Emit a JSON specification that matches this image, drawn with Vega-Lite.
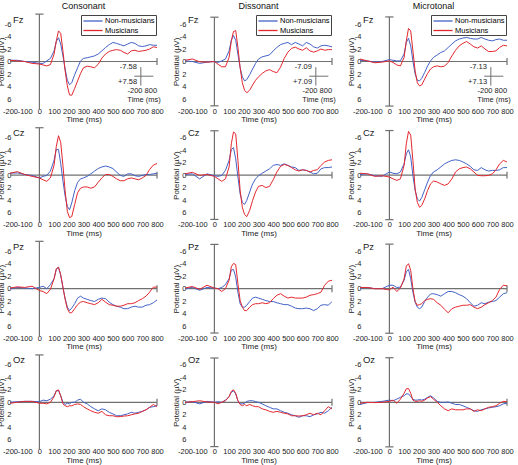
{
"$schema": "https://vega.github.io/schema/vega-lite/v6.json",
"padding": {"left": -3, "top": 1, "right": 0, "bottom": 0},
"background": "white",
"columns": 3,
"spacing": {"row": 18.6, "column": 28},
"bounds": "flush",
"resolve": {"scale": {"color": "independent"}},
"config": {
 "font": "Liberation Sans",
 "view": {"stroke": null},
 "title": {"fontSize": 9, "fontWeight": "normal", "offset": 3, "color": "#111"},
 "axis": {"grid": false, "domain": false, "labelColor": "#222", "titleColor": "#222", "titleFontWeight": "normal", "titleFontSize": 8},
 "axisX": {"ticks": false, "labelFontSize": 7.5, "labelPadding": -2, "titlePadding": 1, "labelFlush": false},
 "axisY": {"ticks": false, "labelFontSize": 7.5, "labelPadding": -1, "titlePadding": -1},
 "text": {"color": "#222"}
},
"datasets": {"erp": [
{"p":"CFz","g":"N","t":-200,"v":-0.2},{"p":"CFz","g":"N","t":-150,"v":-0.2},{"p":"CFz","g":"N","t":-100,"v":0},{"p":"CFz","g":"N","t":-50,"v":0.1},{"p":"CFz","g":"N","t":0,"v":0.3},{"p":"CFz","g":"N","t":25,"v":0.3},{"p":"CFz","g":"N","t":50,"v":-0.1},{"p":"CFz","g":"N","t":75,"v":-0.5},{"p":"CFz","g":"N","t":100,"v":-1.7},{"p":"CFz","g":"N","t":115,"v":-3.2},{"p":"CFz","g":"N","t":130,"v":-3.8},{"p":"CFz","g":"N","t":145,"v":-2.8},{"p":"CFz","g":"N","t":160,"v":-0.9},{"p":"CFz","g":"N","t":175,"v":1.2},{"p":"CFz","g":"N","t":190,"v":3.0},{"p":"CFz","g":"N","t":205,"v":3.7},{"p":"CFz","g":"N","t":220,"v":3.4},{"p":"CFz","g":"N","t":240,"v":2.1},{"p":"CFz","g":"N","t":260,"v":1.0},{"p":"CFz","g":"N","t":280,"v":-0.1},{"p":"CFz","g":"N","t":300,"v":-0.5},{"p":"CFz","g":"N","t":325,"v":-0.6},{"p":"CFz","g":"N","t":350,"v":-0.75},{"p":"CFz","g":"N","t":375,"v":-0.9},{"p":"CFz","g":"N","t":400,"v":-1.2},{"p":"CFz","g":"N","t":425,"v":-1.7},{"p":"CFz","g":"N","t":450,"v":-2.25},{"p":"CFz","g":"N","t":475,"v":-2.7},{"p":"CFz","g":"N","t":500,"v":-3.05},{"p":"CFz","g":"N","t":525,"v":-2.9},{"p":"CFz","g":"N","t":550,"v":-2.7},{"p":"CFz","g":"N","t":575,"v":-2.5},{"p":"CFz","g":"N","t":600,"v":-2.8},{"p":"CFz","g":"N","t":625,"v":-3.05},{"p":"CFz","g":"N","t":650,"v":-2.9},{"p":"CFz","g":"N","t":675,"v":-2.5},{"p":"CFz","g":"N","t":700,"v":-2.4},{"p":"CFz","g":"N","t":725,"v":-2.5},{"p":"CFz","g":"N","t":750,"v":-2.7},{"p":"CFz","g":"N","t":775,"v":-2.6},{"p":"CFz","g":"N","t":800,"v":-2.6},
{"p":"CFz","g":"M","t":-200,"v":-0.2},{"p":"CFz","g":"M","t":-150,"v":-0.1},{"p":"CFz","g":"M","t":-100,"v":0},{"p":"CFz","g":"M","t":-50,"v":0.3},{"p":"CFz","g":"M","t":0,"v":0.4},{"p":"CFz","g":"M","t":25,"v":0.55},{"p":"CFz","g":"M","t":50,"v":0.7},{"p":"CFz","g":"M","t":75,"v":0.5},{"p":"CFz","g":"M","t":100,"v":-1.2},{"p":"CFz","g":"M","t":115,"v":-3.3},{"p":"CFz","g":"M","t":130,"v":-4.9},{"p":"CFz","g":"M","t":145,"v":-4.5},{"p":"CFz","g":"M","t":160,"v":-1.7},{"p":"CFz","g":"M","t":175,"v":1.5},{"p":"CFz","g":"M","t":190,"v":3.9},{"p":"CFz","g":"M","t":205,"v":5.35},{"p":"CFz","g":"M","t":220,"v":5.4},{"p":"CFz","g":"M","t":240,"v":4.3},{"p":"CFz","g":"M","t":260,"v":3.1},{"p":"CFz","g":"M","t":280,"v":1.9},{"p":"CFz","g":"M","t":300,"v":1.0},{"p":"CFz","g":"M","t":325,"v":0.75},{"p":"CFz","g":"M","t":350,"v":0.85},{"p":"CFz","g":"M","t":375,"v":1.0},{"p":"CFz","g":"M","t":400,"v":0.45},{"p":"CFz","g":"M","t":425,"v":-0.55},{"p":"CFz","g":"M","t":450,"v":-1.2},{"p":"CFz","g":"M","t":475,"v":-1.6},{"p":"CFz","g":"M","t":500,"v":-1.8},{"p":"CFz","g":"M","t":525,"v":-1.9},{"p":"CFz","g":"M","t":550,"v":-1.8},{"p":"CFz","g":"M","t":575,"v":-1.45},{"p":"CFz","g":"M","t":600,"v":-1.2},{"p":"CFz","g":"M","t":625,"v":-1.7},{"p":"CFz","g":"M","t":650,"v":-1.8},{"p":"CFz","g":"M","t":675,"v":-1.6},{"p":"CFz","g":"M","t":700,"v":-1.7},{"p":"CFz","g":"M","t":725,"v":-1.8},{"p":"CFz","g":"M","t":750,"v":-2.0},{"p":"CFz","g":"M","t":775,"v":-2.35},{"p":"CFz","g":"M","t":800,"v":-2.25},
{"p":"DFz","g":"N","t":-200,"v":-0.1},{"p":"DFz","g":"N","t":-150,"v":0},{"p":"DFz","g":"N","t":-100,"v":0.3},{"p":"DFz","g":"N","t":-50,"v":0.1},{"p":"DFz","g":"N","t":0,"v":0},{"p":"DFz","g":"N","t":25,"v":0.15},{"p":"DFz","g":"N","t":50,"v":-0.1},{"p":"DFz","g":"N","t":75,"v":-0.4},{"p":"DFz","g":"N","t":100,"v":-1.7},{"p":"DFz","g":"N","t":115,"v":-3.4},{"p":"DFz","g":"N","t":130,"v":-4.15},{"p":"DFz","g":"N","t":145,"v":-3.4},{"p":"DFz","g":"N","t":160,"v":-1.2},{"p":"DFz","g":"N","t":175,"v":1.0},{"p":"DFz","g":"N","t":190,"v":2.45},{"p":"DFz","g":"N","t":205,"v":3.1},{"p":"DFz","g":"N","t":220,"v":2.9},{"p":"DFz","g":"N","t":240,"v":2.1},{"p":"DFz","g":"N","t":260,"v":1.2},{"p":"DFz","g":"N","t":280,"v":0.3},{"p":"DFz","g":"N","t":300,"v":-0.4},{"p":"DFz","g":"N","t":325,"v":-0.75},{"p":"DFz","g":"N","t":350,"v":-0.9},{"p":"DFz","g":"N","t":375,"v":-1.05},{"p":"DFz","g":"N","t":400,"v":-1.7},{"p":"DFz","g":"N","t":425,"v":-2.25},{"p":"DFz","g":"N","t":450,"v":-2.7},{"p":"DFz","g":"N","t":475,"v":-2.9},{"p":"DFz","g":"N","t":500,"v":-3.05},{"p":"DFz","g":"N","t":525,"v":-2.7},{"p":"DFz","g":"N","t":550,"v":-3.05},{"p":"DFz","g":"N","t":575,"v":-2.8},{"p":"DFz","g":"N","t":600,"v":-2.5},{"p":"DFz","g":"N","t":625,"v":-3.05},{"p":"DFz","g":"N","t":650,"v":-2.8},{"p":"DFz","g":"N","t":675,"v":-2.35},{"p":"DFz","g":"N","t":700,"v":-2.15},{"p":"DFz","g":"N","t":725,"v":-2.5},{"p":"DFz","g":"N","t":750,"v":-2.6},{"p":"DFz","g":"N","t":775,"v":-2.5},{"p":"DFz","g":"N","t":800,"v":-2.35},
{"p":"DFz","g":"M","t":-200,"v":-0.2},{"p":"DFz","g":"M","t":-150,"v":-0.4},{"p":"DFz","g":"M","t":-100,"v":0.05},{"p":"DFz","g":"M","t":-50,"v":0.1},{"p":"DFz","g":"M","t":0,"v":0},{"p":"DFz","g":"M","t":25,"v":0.45},{"p":"DFz","g":"M","t":50,"v":0.85},{"p":"DFz","g":"M","t":75,"v":0.85},{"p":"DFz","g":"M","t":100,"v":-0.65},{"p":"DFz","g":"M","t":115,"v":-3.3},{"p":"DFz","g":"M","t":130,"v":-4.8},{"p":"DFz","g":"M","t":145,"v":-4.95},{"p":"DFz","g":"M","t":160,"v":-2.25},{"p":"DFz","g":"M","t":175,"v":1.0},{"p":"DFz","g":"M","t":190,"v":3.4},{"p":"DFz","g":"M","t":205,"v":4.6},{"p":"DFz","g":"M","t":220,"v":5.0},{"p":"DFz","g":"M","t":240,"v":4.6},{"p":"DFz","g":"M","t":260,"v":3.75},{"p":"DFz","g":"M","t":280,"v":3.0},{"p":"DFz","g":"M","t":300,"v":2.45},{"p":"DFz","g":"M","t":325,"v":1.9},{"p":"DFz","g":"M","t":350,"v":1.5},{"p":"DFz","g":"M","t":375,"v":1.3},{"p":"DFz","g":"M","t":400,"v":1.6},{"p":"DFz","g":"M","t":425,"v":1.8},{"p":"DFz","g":"M","t":450,"v":0.9},{"p":"DFz","g":"M","t":475,"v":-0.5},{"p":"DFz","g":"M","t":500,"v":-1.5},{"p":"DFz","g":"M","t":525,"v":-2.1},{"p":"DFz","g":"M","t":550,"v":-2.3},{"p":"DFz","g":"M","t":575,"v":-2.0},{"p":"DFz","g":"M","t":600,"v":-1.8},{"p":"DFz","g":"M","t":625,"v":-2.2},{"p":"DFz","g":"M","t":650,"v":-1.7},{"p":"DFz","g":"M","t":675,"v":-1.5},{"p":"DFz","g":"M","t":700,"v":-1.7},{"p":"DFz","g":"M","t":725,"v":-2.0},{"p":"DFz","g":"M","t":750,"v":-1.8},{"p":"DFz","g":"M","t":775,"v":-1.9},{"p":"DFz","g":"M","t":800,"v":-1.9},
{"p":"MFz","g":"N","t":-200,"v":-0.2},{"p":"MFz","g":"N","t":-150,"v":-0.1},{"p":"MFz","g":"N","t":-100,"v":0.1},{"p":"MFz","g":"N","t":-50,"v":0},{"p":"MFz","g":"N","t":0,"v":-0.3},{"p":"MFz","g":"N","t":25,"v":-0.2},{"p":"MFz","g":"N","t":50,"v":-0.1},{"p":"MFz","g":"N","t":75,"v":-0.1},{"p":"MFz","g":"N","t":100,"v":-1.2},{"p":"MFz","g":"N","t":115,"v":-3.05},{"p":"MFz","g":"N","t":130,"v":-3.7},{"p":"MFz","g":"N","t":145,"v":-2.5},{"p":"MFz","g":"N","t":160,"v":-0.1},{"p":"MFz","g":"N","t":175,"v":2.0},{"p":"MFz","g":"N","t":190,"v":3.0},{"p":"MFz","g":"N","t":205,"v":3.1},{"p":"MFz","g":"N","t":220,"v":2.7},{"p":"MFz","g":"N","t":240,"v":1.75},{"p":"MFz","g":"N","t":260,"v":0.7},{"p":"MFz","g":"N","t":280,"v":-0.1},{"p":"MFz","g":"N","t":300,"v":-0.65},{"p":"MFz","g":"N","t":325,"v":-1.05},{"p":"MFz","g":"N","t":350,"v":-1.45},{"p":"MFz","g":"N","t":375,"v":-1.7},{"p":"MFz","g":"N","t":400,"v":-2.25},{"p":"MFz","g":"N","t":425,"v":-2.8},{"p":"MFz","g":"N","t":450,"v":-3.3},{"p":"MFz","g":"N","t":475,"v":-3.6},{"p":"MFz","g":"N","t":500,"v":-3.75},{"p":"MFz","g":"N","t":525,"v":-3.85},{"p":"MFz","g":"N","t":550,"v":-3.7},{"p":"MFz","g":"N","t":575,"v":-3.6},{"p":"MFz","g":"N","t":600,"v":-3.6},{"p":"MFz","g":"N","t":625,"v":-3.85},{"p":"MFz","g":"N","t":650,"v":-3.6},{"p":"MFz","g":"N","t":675,"v":-3.4},{"p":"MFz","g":"N","t":700,"v":-3.3},{"p":"MFz","g":"N","t":725,"v":-3.5},{"p":"MFz","g":"N","t":750,"v":-3.6},{"p":"MFz","g":"N","t":775,"v":-3.4},{"p":"MFz","g":"N","t":800,"v":-3.4},
{"p":"MFz","g":"M","t":-200,"v":-0.4},{"p":"MFz","g":"M","t":-150,"v":-0.1},{"p":"MFz","g":"M","t":-100,"v":0.2},{"p":"MFz","g":"M","t":-50,"v":0.1},{"p":"MFz","g":"M","t":0,"v":-0.1},{"p":"MFz","g":"M","t":25,"v":0.15},{"p":"MFz","g":"M","t":50,"v":0.55},{"p":"MFz","g":"M","t":75,"v":0.7},{"p":"MFz","g":"M","t":100,"v":-0.65},{"p":"MFz","g":"M","t":115,"v":-3.3},{"p":"MFz","g":"M","t":130,"v":-5.3},{"p":"MFz","g":"M","t":145,"v":-4.9},{"p":"MFz","g":"M","t":160,"v":-1.7},{"p":"MFz","g":"M","t":175,"v":1.5},{"p":"MFz","g":"M","t":190,"v":3.4},{"p":"MFz","g":"M","t":205,"v":3.9},{"p":"MFz","g":"M","t":220,"v":3.75},{"p":"MFz","g":"M","t":240,"v":2.8},{"p":"MFz","g":"M","t":260,"v":1.9},{"p":"MFz","g":"M","t":280,"v":1.2},{"p":"MFz","g":"M","t":300,"v":0.85},{"p":"MFz","g":"M","t":325,"v":0.7},{"p":"MFz","g":"M","t":350,"v":0.85},{"p":"MFz","g":"M","t":375,"v":0.75},{"p":"MFz","g":"M","t":400,"v":0.15},{"p":"MFz","g":"M","t":425,"v":-0.9},{"p":"MFz","g":"M","t":450,"v":-1.8},{"p":"MFz","g":"M","t":475,"v":-2.5},{"p":"MFz","g":"M","t":500,"v":-2.9},{"p":"MFz","g":"M","t":525,"v":-3.2},{"p":"MFz","g":"M","t":550,"v":-2.8},{"p":"MFz","g":"M","t":575,"v":-2.35},{"p":"MFz","g":"M","t":600,"v":-2.15},{"p":"MFz","g":"M","t":625,"v":-2.5},{"p":"MFz","g":"M","t":650,"v":-2.0},{"p":"MFz","g":"M","t":675,"v":-1.6},{"p":"MFz","g":"M","t":700,"v":-1.6},{"p":"MFz","g":"M","t":725,"v":-1.7},{"p":"MFz","g":"M","t":750,"v":-2.25},{"p":"MFz","g":"M","t":775,"v":-2.6},{"p":"MFz","g":"M","t":800,"v":-2.5},
{"p":"CCz","g":"N","t":-200,"v":-0.3},{"p":"CCz","g":"N","t":-150,"v":-0.35},{"p":"CCz","g":"N","t":-100,"v":-0.1},{"p":"CCz","g":"N","t":-50,"v":0.05},{"p":"CCz","g":"N","t":0,"v":0.45},{"p":"CCz","g":"N","t":25,"v":0.2},{"p":"CCz","g":"N","t":50,"v":0.05},{"p":"CCz","g":"N","t":75,"v":-0.65},{"p":"CCz","g":"N","t":100,"v":-2.4},{"p":"CCz","g":"N","t":115,"v":-4.1},{"p":"CCz","g":"N","t":130,"v":-4.1},{"p":"CCz","g":"N","t":145,"v":-1.85},{"p":"CCz","g":"N","t":160,"v":0.9},{"p":"CCz","g":"N","t":175,"v":3.35},{"p":"CCz","g":"N","t":190,"v":5.0},{"p":"CCz","g":"N","t":205,"v":5.55},{"p":"CCz","g":"N","t":220,"v":4.45},{"p":"CCz","g":"N","t":240,"v":2.5},{"p":"CCz","g":"N","t":260,"v":1.15},{"p":"CCz","g":"N","t":280,"v":0.6},{"p":"CCz","g":"N","t":300,"v":0.45},{"p":"CCz","g":"N","t":325,"v":0.2},{"p":"CCz","g":"N","t":350,"v":-0.2},{"p":"CCz","g":"N","t":375,"v":-0.65},{"p":"CCz","g":"N","t":400,"v":-1.05},{"p":"CCz","g":"N","t":425,"v":-1.3},{"p":"CCz","g":"N","t":450,"v":-1.45},{"p":"CCz","g":"N","t":475,"v":-1.3},{"p":"CCz","g":"N","t":500,"v":-1.05},{"p":"CCz","g":"N","t":525,"v":-0.5},{"p":"CCz","g":"N","t":550,"v":0.05},{"p":"CCz","g":"N","t":575,"v":0.2},{"p":"CCz","g":"N","t":600,"v":-0.2},{"p":"CCz","g":"N","t":625,"v":-0.2},{"p":"CCz","g":"N","t":650,"v":0.1},{"p":"CCz","g":"N","t":675,"v":0.2},{"p":"CCz","g":"N","t":700,"v":0.05},{"p":"CCz","g":"N","t":725,"v":-0.1},{"p":"CCz","g":"N","t":750,"v":-0.1},{"p":"CCz","g":"N","t":775,"v":-0.2},{"p":"CCz","g":"N","t":800,"v":-0.3},
{"p":"CCz","g":"M","t":-200,"v":-0.3},{"p":"CCz","g":"M","t":-150,"v":-0.55},{"p":"CCz","g":"M","t":-100,"v":-0.1},{"p":"CCz","g":"M","t":-50,"v":0.2},{"p":"CCz","g":"M","t":0,"v":0.45},{"p":"CCz","g":"M","t":25,"v":0.75},{"p":"CCz","g":"M","t":50,"v":1.0},{"p":"CCz","g":"M","t":75,"v":0.45},{"p":"CCz","g":"M","t":100,"v":-1.6},{"p":"CCz","g":"M","t":115,"v":-4.6},{"p":"CCz","g":"M","t":130,"v":-6.3},{"p":"CCz","g":"M","t":145,"v":-5.2},{"p":"CCz","g":"M","t":160,"v":-1.6},{"p":"CCz","g":"M","t":175,"v":2.5},{"p":"CCz","g":"M","t":190,"v":5.8},{"p":"CCz","g":"M","t":205,"v":6.8},{"p":"CCz","g":"M","t":220,"v":6.65},{"p":"CCz","g":"M","t":240,"v":4.7},{"p":"CCz","g":"M","t":260,"v":2.8},{"p":"CCz","g":"M","t":280,"v":2.1},{"p":"CCz","g":"M","t":300,"v":1.9},{"p":"CCz","g":"M","t":325,"v":1.9},{"p":"CCz","g":"M","t":350,"v":2.1},{"p":"CCz","g":"M","t":375,"v":1.9},{"p":"CCz","g":"M","t":400,"v":1.15},{"p":"CCz","g":"M","t":425,"v":0.45},{"p":"CCz","g":"M","t":450,"v":-0.1},{"p":"CCz","g":"M","t":475,"v":-0.1},{"p":"CCz","g":"M","t":500,"v":0.2},{"p":"CCz","g":"M","t":525,"v":0.6},{"p":"CCz","g":"M","t":550,"v":0.9},{"p":"CCz","g":"M","t":575,"v":0.9},{"p":"CCz","g":"M","t":600,"v":0.6},{"p":"CCz","g":"M","t":625,"v":0.45},{"p":"CCz","g":"M","t":650,"v":0.6},{"p":"CCz","g":"M","t":675,"v":0.75},{"p":"CCz","g":"M","t":700,"v":0.45},{"p":"CCz","g":"M","t":725,"v":0.05},{"p":"CCz","g":"M","t":750,"v":-0.9},{"p":"CCz","g":"M","t":775,"v":-1.6},{"p":"CCz","g":"M","t":800,"v":-1.85},
{"p":"DCz","g":"N","t":-200,"v":-0.1},{"p":"DCz","g":"N","t":-150,"v":-0.2},{"p":"DCz","g":"N","t":-100,"v":0.6},{"p":"DCz","g":"N","t":-50,"v":-0.2},{"p":"DCz","g":"N","t":0,"v":0.1},{"p":"DCz","g":"N","t":25,"v":0.2},{"p":"DCz","g":"N","t":50,"v":0.05},{"p":"DCz","g":"N","t":75,"v":-0.75},{"p":"DCz","g":"N","t":100,"v":-2.35},{"p":"DCz","g":"N","t":115,"v":-4.05},{"p":"DCz","g":"N","t":130,"v":-4.4},{"p":"DCz","g":"N","t":145,"v":-2.6},{"p":"DCz","g":"N","t":160,"v":0.3},{"p":"DCz","g":"N","t":175,"v":3.0},{"p":"DCz","g":"N","t":190,"v":4.35},{"p":"DCz","g":"N","t":205,"v":4.7},{"p":"DCz","g":"N","t":220,"v":4.05},{"p":"DCz","g":"N","t":240,"v":2.7},{"p":"DCz","g":"N","t":260,"v":1.4},{"p":"DCz","g":"N","t":280,"v":0.6},{"p":"DCz","g":"N","t":300,"v":0.1},{"p":"DCz","g":"N","t":325,"v":-0.3},{"p":"DCz","g":"N","t":350,"v":-0.65},{"p":"DCz","g":"N","t":375,"v":-1.0},{"p":"DCz","g":"N","t":400,"v":-1.55},{"p":"DCz","g":"N","t":425,"v":-1.7},{"p":"DCz","g":"N","t":450,"v":-1.55},{"p":"DCz","g":"N","t":475,"v":-1.8},{"p":"DCz","g":"N","t":500,"v":-1.55},{"p":"DCz","g":"N","t":525,"v":-1.3},{"p":"DCz","g":"N","t":550,"v":-1.2},{"p":"DCz","g":"N","t":575,"v":-0.75},{"p":"DCz","g":"N","t":600,"v":-0.85},{"p":"DCz","g":"N","t":625,"v":-0.75},{"p":"DCz","g":"N","t":650,"v":-0.5},{"p":"DCz","g":"N","t":675,"v":-0.2},{"p":"DCz","g":"N","t":700,"v":-0.3},{"p":"DCz","g":"N","t":725,"v":-1.0},{"p":"DCz","g":"N","t":750,"v":-1.2},{"p":"DCz","g":"N","t":775,"v":-1.2},{"p":"DCz","g":"N","t":800,"v":-1.3},
{"p":"DCz","g":"M","t":-200,"v":-0.2},{"p":"DCz","g":"M","t":-150,"v":-0.45},{"p":"DCz","g":"M","t":-100,"v":0.05},{"p":"DCz","g":"M","t":-50,"v":-0.1},{"p":"DCz","g":"M","t":0,"v":0.2},{"p":"DCz","g":"M","t":25,"v":0.6},{"p":"DCz","g":"M","t":50,"v":1.0},{"p":"DCz","g":"M","t":75,"v":0.6},{"p":"DCz","g":"M","t":100,"v":-1.3},{"p":"DCz","g":"M","t":115,"v":-5.0},{"p":"DCz","g":"M","t":130,"v":-6.9},{"p":"DCz","g":"M","t":145,"v":-6.6},{"p":"DCz","g":"M","t":160,"v":-2.35},{"p":"DCz","g":"M","t":175,"v":2.45},{"p":"DCz","g":"M","t":190,"v":5.15},{"p":"DCz","g":"M","t":205,"v":6.3},{"p":"DCz","g":"M","t":220,"v":6.65},{"p":"DCz","g":"M","t":240,"v":5.65},{"p":"DCz","g":"M","t":260,"v":4.05},{"p":"DCz","g":"M","t":280,"v":2.7},{"p":"DCz","g":"M","t":300,"v":1.8},{"p":"DCz","g":"M","t":325,"v":1.65},{"p":"DCz","g":"M","t":350,"v":2.0},{"p":"DCz","g":"M","t":375,"v":1.8},{"p":"DCz","g":"M","t":400,"v":0.75},{"p":"DCz","g":"M","t":425,"v":-0.5},{"p":"DCz","g":"M","t":450,"v":-1.4},{"p":"DCz","g":"M","t":475,"v":-1.7},{"p":"DCz","g":"M","t":500,"v":-1.55},{"p":"DCz","g":"M","t":525,"v":-1.2},{"p":"DCz","g":"M","t":550,"v":-0.85},{"p":"DCz","g":"M","t":575,"v":-0.65},{"p":"DCz","g":"M","t":600,"v":-0.85},{"p":"DCz","g":"M","t":625,"v":-0.75},{"p":"DCz","g":"M","t":650,"v":-0.5},{"p":"DCz","g":"M","t":675,"v":-0.75},{"p":"DCz","g":"M","t":700,"v":-0.85},{"p":"DCz","g":"M","t":725,"v":-1.55},{"p":"DCz","g":"M","t":750,"v":-2.1},{"p":"DCz","g":"M","t":775,"v":-2.35},{"p":"DCz","g":"M","t":800,"v":-2.45},
{"p":"MCz","g":"N","t":-200,"v":-0.1},{"p":"MCz","g":"N","t":-150,"v":-0.2},{"p":"MCz","g":"N","t":-100,"v":0.1},{"p":"MCz","g":"N","t":-50,"v":0.2},{"p":"MCz","g":"N","t":0,"v":-0.5},{"p":"MCz","g":"N","t":25,"v":-0.3},{"p":"MCz","g":"N","t":50,"v":-0.2},{"p":"MCz","g":"N","t":75,"v":-0.5},{"p":"MCz","g":"N","t":100,"v":-1.8},{"p":"MCz","g":"N","t":115,"v":-3.4},{"p":"MCz","g":"N","t":130,"v":-4.05},{"p":"MCz","g":"N","t":145,"v":-2.9},{"p":"MCz","g":"N","t":160,"v":0.05},{"p":"MCz","g":"N","t":175,"v":2.45},{"p":"MCz","g":"N","t":190,"v":3.8},{"p":"MCz","g":"N","t":205,"v":4.15},{"p":"MCz","g":"N","t":220,"v":3.6},{"p":"MCz","g":"N","t":240,"v":2.35},{"p":"MCz","g":"N","t":260,"v":1.1},{"p":"MCz","g":"N","t":280,"v":0.05},{"p":"MCz","g":"N","t":300,"v":-0.5},{"p":"MCz","g":"N","t":325,"v":-0.85},{"p":"MCz","g":"N","t":350,"v":-1.3},{"p":"MCz","g":"N","t":375,"v":-1.8},{"p":"MCz","g":"N","t":400,"v":-2.1},{"p":"MCz","g":"N","t":425,"v":-2.35},{"p":"MCz","g":"N","t":450,"v":-2.45},{"p":"MCz","g":"N","t":475,"v":-2.35},{"p":"MCz","g":"N","t":500,"v":-2.1},{"p":"MCz","g":"N","t":525,"v":-1.8},{"p":"MCz","g":"N","t":550,"v":-1.4},{"p":"MCz","g":"N","t":575,"v":-0.85},{"p":"MCz","g":"N","t":600,"v":-0.75},{"p":"MCz","g":"N","t":625,"v":-1.2},{"p":"MCz","g":"N","t":650,"v":-0.85},{"p":"MCz","g":"N","t":675,"v":-0.65},{"p":"MCz","g":"N","t":700,"v":-0.75},{"p":"MCz","g":"N","t":725,"v":-0.75},{"p":"MCz","g":"N","t":750,"v":-0.85},{"p":"MCz","g":"N","t":775,"v":-1.2},{"p":"MCz","g":"N","t":800,"v":-1.2},
{"p":"MCz","g":"M","t":-200,"v":-0.3},{"p":"MCz","g":"M","t":-150,"v":-0.2},{"p":"MCz","g":"M","t":-100,"v":0.2},{"p":"MCz","g":"M","t":-50,"v":0.1},{"p":"MCz","g":"M","t":0,"v":0.3},{"p":"MCz","g":"M","t":25,"v":0.6},{"p":"MCz","g":"M","t":50,"v":0.85},{"p":"MCz","g":"M","t":75,"v":0.6},{"p":"MCz","g":"M","t":100,"v":-1.55},{"p":"MCz","g":"M","t":115,"v":-5.0},{"p":"MCz","g":"M","t":130,"v":-7.0},{"p":"MCz","g":"M","t":145,"v":-6.4},{"p":"MCz","g":"M","t":160,"v":-2.35},{"p":"MCz","g":"M","t":175,"v":2.2},{"p":"MCz","g":"M","t":190,"v":4.35},{"p":"MCz","g":"M","t":205,"v":5.15},{"p":"MCz","g":"M","t":220,"v":4.85},{"p":"MCz","g":"M","t":240,"v":3.8},{"p":"MCz","g":"M","t":260,"v":2.45},{"p":"MCz","g":"M","t":280,"v":1.4},{"p":"MCz","g":"M","t":300,"v":0.95},{"p":"MCz","g":"M","t":325,"v":1.1},{"p":"MCz","g":"M","t":350,"v":1.4},{"p":"MCz","g":"M","t":375,"v":1.65},{"p":"MCz","g":"M","t":400,"v":1.4},{"p":"MCz","g":"M","t":425,"v":0.6},{"p":"MCz","g":"M","t":450,"v":-0.5},{"p":"MCz","g":"M","t":475,"v":-1.0},{"p":"MCz","g":"M","t":500,"v":-1.2},{"p":"MCz","g":"M","t":525,"v":-1.3},{"p":"MCz","g":"M","t":550,"v":-1.0},{"p":"MCz","g":"M","t":575,"v":-0.5},{"p":"MCz","g":"M","t":600,"v":0.05},{"p":"MCz","g":"M","t":625,"v":0.1},{"p":"MCz","g":"M","t":650,"v":0.1},{"p":"MCz","g":"M","t":675,"v":0.05},{"p":"MCz","g":"M","t":700,"v":-0.2},{"p":"MCz","g":"M","t":725,"v":-0.85},{"p":"MCz","g":"M","t":750,"v":-1.8},{"p":"MCz","g":"M","t":775,"v":-2.35},{"p":"MCz","g":"M","t":800,"v":-2.1},
{"p":"CPz","g":"N","t":-200,"v":0},{"p":"CPz","g":"N","t":-150,"v":-0.2},{"p":"CPz","g":"N","t":-100,"v":-0.1},{"p":"CPz","g":"N","t":-50,"v":0},{"p":"CPz","g":"N","t":0,"v":-0.2},{"p":"CPz","g":"N","t":25,"v":-0.4},{"p":"CPz","g":"N","t":50,"v":0},{"p":"CPz","g":"N","t":75,"v":-0.65},{"p":"CPz","g":"N","t":100,"v":-1.6},{"p":"CPz","g":"N","t":115,"v":-3.1},{"p":"CPz","g":"N","t":130,"v":-3.4},{"p":"CPz","g":"N","t":145,"v":-2.15},{"p":"CPz","g":"N","t":160,"v":-0.25},{"p":"CPz","g":"N","t":175,"v":1.6},{"p":"CPz","g":"N","t":190,"v":2.95},{"p":"CPz","g":"N","t":205,"v":3.5},{"p":"CPz","g":"N","t":220,"v":3.1},{"p":"CPz","g":"N","t":240,"v":2.4},{"p":"CPz","g":"N","t":260,"v":1.5},{"p":"CPz","g":"N","t":280,"v":1.2},{"p":"CPz","g":"N","t":300,"v":1.5},{"p":"CPz","g":"N","t":325,"v":1.7},{"p":"CPz","g":"N","t":350,"v":1.9},{"p":"CPz","g":"N","t":375,"v":2.05},{"p":"CPz","g":"N","t":400,"v":1.7},{"p":"CPz","g":"N","t":425,"v":1.5},{"p":"CPz","g":"N","t":450,"v":1.6},{"p":"CPz","g":"N","t":475,"v":2.15},{"p":"CPz","g":"N","t":500,"v":2.55},{"p":"CPz","g":"N","t":525,"v":2.8},{"p":"CPz","g":"N","t":550,"v":2.95},{"p":"CPz","g":"N","t":575,"v":3.2},{"p":"CPz","g":"N","t":600,"v":3.2},{"p":"CPz","g":"N","t":625,"v":2.95},{"p":"CPz","g":"N","t":650,"v":2.8},{"p":"CPz","g":"N","t":675,"v":2.95},{"p":"CPz","g":"N","t":700,"v":2.95},{"p":"CPz","g":"N","t":725,"v":2.65},{"p":"CPz","g":"N","t":750,"v":2.55},{"p":"CPz","g":"N","t":775,"v":2.25},{"p":"CPz","g":"N","t":800,"v":1.8},
{"p":"CPz","g":"M","t":-200,"v":-0.1},{"p":"CPz","g":"M","t":-150,"v":-0.3},{"p":"CPz","g":"M","t":-100,"v":-0.2},{"p":"CPz","g":"M","t":-50,"v":-0.4},{"p":"CPz","g":"M","t":0,"v":0.3},{"p":"CPz","g":"M","t":25,"v":0.45},{"p":"CPz","g":"M","t":50,"v":0.8},{"p":"CPz","g":"M","t":75,"v":0.1},{"p":"CPz","g":"M","t":100,"v":-1.6},{"p":"CPz","g":"M","t":115,"v":-3.2},{"p":"CPz","g":"M","t":130,"v":-3.45},{"p":"CPz","g":"M","t":145,"v":-2.25},{"p":"CPz","g":"M","t":160,"v":-0.25},{"p":"CPz","g":"M","t":175,"v":1.7},{"p":"CPz","g":"M","t":190,"v":3.2},{"p":"CPz","g":"M","t":205,"v":3.85},{"p":"CPz","g":"M","t":220,"v":3.85},{"p":"CPz","g":"M","t":240,"v":3.2},{"p":"CPz","g":"M","t":260,"v":2.55},{"p":"CPz","g":"M","t":280,"v":2.15},{"p":"CPz","g":"M","t":300,"v":2.05},{"p":"CPz","g":"M","t":325,"v":2.25},{"p":"CPz","g":"M","t":350,"v":2.4},{"p":"CPz","g":"M","t":375,"v":2.55},{"p":"CPz","g":"M","t":400,"v":2.25},{"p":"CPz","g":"M","t":425,"v":1.7},{"p":"CPz","g":"M","t":450,"v":2.15},{"p":"CPz","g":"M","t":475,"v":2.55},{"p":"CPz","g":"M","t":500,"v":2.65},{"p":"CPz","g":"M","t":525,"v":2.8},{"p":"CPz","g":"M","t":550,"v":2.8},{"p":"CPz","g":"M","t":575,"v":2.65},{"p":"CPz","g":"M","t":600,"v":2.4},{"p":"CPz","g":"M","t":625,"v":2.4},{"p":"CPz","g":"M","t":650,"v":2.25},{"p":"CPz","g":"M","t":675,"v":1.9},{"p":"CPz","g":"M","t":700,"v":1.6},{"p":"CPz","g":"M","t":725,"v":1.2},{"p":"CPz","g":"M","t":750,"v":0.55},{"p":"CPz","g":"M","t":775,"v":-0.25},{"p":"CPz","g":"M","t":800,"v":-0.25},
{"p":"DPz","g":"N","t":-200,"v":0},{"p":"DPz","g":"N","t":-150,"v":-0.2},{"p":"DPz","g":"N","t":-100,"v":0.25},{"p":"DPz","g":"N","t":-50,"v":-0.2},{"p":"DPz","g":"N","t":0,"v":-0.1},{"p":"DPz","g":"N","t":25,"v":0},{"p":"DPz","g":"N","t":50,"v":-0.2},{"p":"DPz","g":"N","t":75,"v":-0.65},{"p":"DPz","g":"N","t":100,"v":-1.6},{"p":"DPz","g":"N","t":115,"v":-2.95},{"p":"DPz","g":"N","t":130,"v":-3.1},{"p":"DPz","g":"N","t":145,"v":-1.85},{"p":"DPz","g":"N","t":160,"v":0.55},{"p":"DPz","g":"N","t":175,"v":2.4},{"p":"DPz","g":"N","t":190,"v":2.95},{"p":"DPz","g":"N","t":205,"v":2.95},{"p":"DPz","g":"N","t":220,"v":2.65},{"p":"DPz","g":"N","t":240,"v":2.05},{"p":"DPz","g":"N","t":260,"v":1.5},{"p":"DPz","g":"N","t":280,"v":1.35},{"p":"DPz","g":"N","t":300,"v":1.5},{"p":"DPz","g":"N","t":325,"v":1.7},{"p":"DPz","g":"N","t":350,"v":1.9},{"p":"DPz","g":"N","t":375,"v":2.05},{"p":"DPz","g":"N","t":400,"v":2.05},{"p":"DPz","g":"N","t":425,"v":2.25},{"p":"DPz","g":"N","t":450,"v":2.4},{"p":"DPz","g":"N","t":475,"v":2.55},{"p":"DPz","g":"N","t":500,"v":2.55},{"p":"DPz","g":"N","t":525,"v":2.8},{"p":"DPz","g":"N","t":550,"v":3.1},{"p":"DPz","g":"N","t":575,"v":3.2},{"p":"DPz","g":"N","t":600,"v":3.2},{"p":"DPz","g":"N","t":625,"v":3.1},{"p":"DPz","g":"N","t":650,"v":3.2},{"p":"DPz","g":"N","t":675,"v":3.5},{"p":"DPz","g":"N","t":700,"v":3.2},{"p":"DPz","g":"N","t":725,"v":2.65},{"p":"DPz","g":"N","t":750,"v":2.55},{"p":"DPz","g":"N","t":775,"v":2.65},{"p":"DPz","g":"N","t":800,"v":2.05},
{"p":"DPz","g":"M","t":-200,"v":-0.1},{"p":"DPz","g":"M","t":-150,"v":-0.35},{"p":"DPz","g":"M","t":-100,"v":0.1},{"p":"DPz","g":"M","t":-50,"v":-0.55},{"p":"DPz","g":"M","t":0,"v":-0.1},{"p":"DPz","g":"M","t":25,"v":0},{"p":"DPz","g":"M","t":50,"v":0.45},{"p":"DPz","g":"M","t":75,"v":0},{"p":"DPz","g":"M","t":100,"v":-1.35},{"p":"DPz","g":"M","t":115,"v":-3.5},{"p":"DPz","g":"M","t":130,"v":-4.05},{"p":"DPz","g":"M","t":145,"v":-3.85},{"p":"DPz","g":"M","t":160,"v":-0.8},{"p":"DPz","g":"M","t":175,"v":1.9},{"p":"DPz","g":"M","t":190,"v":2.95},{"p":"DPz","g":"M","t":205,"v":3.5},{"p":"DPz","g":"M","t":220,"v":3.5},{"p":"DPz","g":"M","t":240,"v":2.95},{"p":"DPz","g":"M","t":260,"v":2.55},{"p":"DPz","g":"M","t":280,"v":2.4},{"p":"DPz","g":"M","t":300,"v":2.4},{"p":"DPz","g":"M","t":325,"v":2.25},{"p":"DPz","g":"M","t":350,"v":2.4},{"p":"DPz","g":"M","t":375,"v":2.25},{"p":"DPz","g":"M","t":400,"v":1.6},{"p":"DPz","g":"M","t":425,"v":1.05},{"p":"DPz","g":"M","t":450,"v":0.8},{"p":"DPz","g":"M","t":475,"v":1.2},{"p":"DPz","g":"M","t":500,"v":1.5},{"p":"DPz","g":"M","t":525,"v":1.35},{"p":"DPz","g":"M","t":550,"v":1.5},{"p":"DPz","g":"M","t":575,"v":1.5},{"p":"DPz","g":"M","t":600,"v":1.5},{"p":"DPz","g":"M","t":625,"v":1.35},{"p":"DPz","g":"M","t":650,"v":1.05},{"p":"DPz","g":"M","t":675,"v":0.95},{"p":"DPz","g":"M","t":700,"v":0.8},{"p":"DPz","g":"M","t":725,"v":0.55},{"p":"DPz","g":"M","t":750,"v":-0.55},{"p":"DPz","g":"M","t":775,"v":-1.2},{"p":"DPz","g":"M","t":800,"v":-1.35},
{"p":"MPz","g":"N","t":-200,"v":-0.1},{"p":"MPz","g":"N","t":-150,"v":-0.2},{"p":"MPz","g":"N","t":-100,"v":0},{"p":"MPz","g":"N","t":-50,"v":0},{"p":"MPz","g":"N","t":0,"v":-0.55},{"p":"MPz","g":"N","t":25,"v":-0.55},{"p":"MPz","g":"N","t":50,"v":-0.2},{"p":"MPz","g":"N","t":75,"v":-0.25},{"p":"MPz","g":"N","t":100,"v":-1.35},{"p":"MPz","g":"N","t":115,"v":-2.7},{"p":"MPz","g":"N","t":130,"v":-3.1},{"p":"MPz","g":"N","t":145,"v":-1.6},{"p":"MPz","g":"N","t":160,"v":0.55},{"p":"MPz","g":"N","t":175,"v":2.15},{"p":"MPz","g":"N","t":190,"v":2.95},{"p":"MPz","g":"N","t":205,"v":3.2},{"p":"MPz","g":"N","t":220,"v":2.95},{"p":"MPz","g":"N","t":240,"v":2.05},{"p":"MPz","g":"N","t":260,"v":1.35},{"p":"MPz","g":"N","t":280,"v":0.85},{"p":"MPz","g":"N","t":300,"v":0.8},{"p":"MPz","g":"N","t":325,"v":0.95},{"p":"MPz","g":"N","t":350,"v":1.2},{"p":"MPz","g":"N","t":375,"v":0.8},{"p":"MPz","g":"N","t":400,"v":0.45},{"p":"MPz","g":"N","t":425,"v":0.45},{"p":"MPz","g":"N","t":450,"v":0.65},{"p":"MPz","g":"N","t":475,"v":0.95},{"p":"MPz","g":"N","t":500,"v":1.2},{"p":"MPz","g":"N","t":525,"v":1.6},{"p":"MPz","g":"N","t":550,"v":2.25},{"p":"MPz","g":"N","t":575,"v":2.8},{"p":"MPz","g":"N","t":600,"v":2.65},{"p":"MPz","g":"N","t":625,"v":2.25},{"p":"MPz","g":"N","t":650,"v":2.4},{"p":"MPz","g":"N","t":675,"v":2.15},{"p":"MPz","g":"N","t":700,"v":2.05},{"p":"MPz","g":"N","t":725,"v":1.9},{"p":"MPz","g":"N","t":750,"v":1.35},{"p":"MPz","g":"N","t":775,"v":0.8},{"p":"MPz","g":"N","t":800,"v":0.65},
{"p":"MPz","g":"M","t":-200,"v":-0.2},{"p":"MPz","g":"M","t":-150,"v":-0.2},{"p":"MPz","g":"M","t":-100,"v":0},{"p":"MPz","g":"M","t":-50,"v":0},{"p":"MPz","g":"M","t":0,"v":0.2},{"p":"MPz","g":"M","t":25,"v":-0.25},{"p":"MPz","g":"M","t":50,"v":0.45},{"p":"MPz","g":"M","t":75,"v":-0.1},{"p":"MPz","g":"M","t":100,"v":-1.6},{"p":"MPz","g":"M","t":115,"v":-3.6},{"p":"MPz","g":"M","t":130,"v":-4.0},{"p":"MPz","g":"M","t":145,"v":-2.95},{"p":"MPz","g":"M","t":160,"v":0},{"p":"MPz","g":"M","t":175,"v":2.05},{"p":"MPz","g":"M","t":190,"v":2.65},{"p":"MPz","g":"M","t":205,"v":2.55},{"p":"MPz","g":"M","t":220,"v":2.4},{"p":"MPz","g":"M","t":240,"v":1.9},{"p":"MPz","g":"M","t":260,"v":1.7},{"p":"MPz","g":"M","t":280,"v":1.6},{"p":"MPz","g":"M","t":300,"v":1.7},{"p":"MPz","g":"M","t":325,"v":2.25},{"p":"MPz","g":"M","t":350,"v":2.65},{"p":"MPz","g":"M","t":375,"v":3.3},{"p":"MPz","g":"M","t":400,"v":3.85},{"p":"MPz","g":"M","t":425,"v":3.2},{"p":"MPz","g":"M","t":450,"v":2.95},{"p":"MPz","g":"M","t":475,"v":2.8},{"p":"MPz","g":"M","t":500,"v":2.65},{"p":"MPz","g":"M","t":525,"v":2.65},{"p":"MPz","g":"M","t":550,"v":2.55},{"p":"MPz","g":"M","t":575,"v":2.95},{"p":"MPz","g":"M","t":600,"v":3.2},{"p":"MPz","g":"M","t":625,"v":2.95},{"p":"MPz","g":"M","t":650,"v":2.55},{"p":"MPz","g":"M","t":675,"v":2.25},{"p":"MPz","g":"M","t":700,"v":1.9},{"p":"MPz","g":"M","t":725,"v":1.35},{"p":"MPz","g":"M","t":750,"v":0.1},{"p":"MPz","g":"M","t":775,"v":-0.55},{"p":"MPz","g":"M","t":800,"v":-0.45},
{"p":"COz","g":"N","t":-200,"v":0},{"p":"COz","g":"N","t":-150,"v":-0.1},{"p":"COz","g":"N","t":-100,"v":-0.15},{"p":"COz","g":"N","t":-50,"v":-0.15},{"p":"COz","g":"N","t":0,"v":-0.1},{"p":"COz","g":"N","t":25,"v":-0.35},{"p":"COz","g":"N","t":50,"v":-0.25},{"p":"COz","g":"N","t":75,"v":-0.5},{"p":"COz","g":"N","t":100,"v":-1.05},{"p":"COz","g":"N","t":115,"v":-1.85},{"p":"COz","g":"N","t":130,"v":-1.85},{"p":"COz","g":"N","t":145,"v":-1.05},{"p":"COz","g":"N","t":160,"v":0},{"p":"COz","g":"N","t":175,"v":0.35},{"p":"COz","g":"N","t":190,"v":0.15},{"p":"COz","g":"N","t":205,"v":0.25},{"p":"COz","g":"N","t":220,"v":0},{"p":"COz","g":"N","t":240,"v":0},{"p":"COz","g":"N","t":260,"v":-0.35},{"p":"COz","g":"N","t":280,"v":-0.5},{"p":"COz","g":"N","t":300,"v":0},{"p":"COz","g":"N","t":325,"v":0.25},{"p":"COz","g":"N","t":350,"v":0.7},{"p":"COz","g":"N","t":375,"v":1.05},{"p":"COz","g":"N","t":400,"v":1.35},{"p":"COz","g":"N","t":425,"v":1.05},{"p":"COz","g":"N","t":450,"v":1.2},{"p":"COz","g":"N","t":475,"v":1.6},{"p":"COz","g":"N","t":500,"v":1.85},{"p":"COz","g":"N","t":525,"v":2.15},{"p":"COz","g":"N","t":550,"v":2.15},{"p":"COz","g":"N","t":575,"v":2.0},{"p":"COz","g":"N","t":600,"v":1.85},{"p":"COz","g":"N","t":625,"v":1.6},{"p":"COz","g":"N","t":650,"v":1.75},{"p":"COz","g":"N","t":675,"v":1.6},{"p":"COz","g":"N","t":700,"v":1.45},{"p":"COz","g":"N","t":725,"v":1.2},{"p":"COz","g":"N","t":750,"v":0.8},{"p":"COz","g":"N","t":775,"v":0.7},{"p":"COz","g":"N","t":800,"v":0.55},
{"p":"COz","g":"M","t":-200,"v":0.15},{"p":"COz","g":"M","t":-150,"v":0},{"p":"COz","g":"M","t":-100,"v":-0.15},{"p":"COz","g":"M","t":-50,"v":-0.15},{"p":"COz","g":"M","t":0,"v":0.15},{"p":"COz","g":"M","t":25,"v":0.15},{"p":"COz","g":"M","t":50,"v":0.25},{"p":"COz","g":"M","t":75,"v":0},{"p":"COz","g":"M","t":100,"v":-0.9},{"p":"COz","g":"M","t":115,"v":-1.85},{"p":"COz","g":"M","t":130,"v":-2.0},{"p":"COz","g":"M","t":145,"v":-1.05},{"p":"COz","g":"M","t":160,"v":0.25},{"p":"COz","g":"M","t":175,"v":0.55},{"p":"COz","g":"M","t":190,"v":0.7},{"p":"COz","g":"M","t":205,"v":0.55},{"p":"COz","g":"M","t":220,"v":0.55},{"p":"COz","g":"M","t":240,"v":0.35},{"p":"COz","g":"M","t":260,"v":0.25},{"p":"COz","g":"M","t":280,"v":0.35},{"p":"COz","g":"M","t":300,"v":0.7},{"p":"COz","g":"M","t":325,"v":1.05},{"p":"COz","g":"M","t":350,"v":1.35},{"p":"COz","g":"M","t":375,"v":1.6},{"p":"COz","g":"M","t":400,"v":1.75},{"p":"COz","g":"M","t":425,"v":1.45},{"p":"COz","g":"M","t":450,"v":2.0},{"p":"COz","g":"M","t":475,"v":2.15},{"p":"COz","g":"M","t":500,"v":2.15},{"p":"COz","g":"M","t":525,"v":2.3},{"p":"COz","g":"M","t":550,"v":2.3},{"p":"COz","g":"M","t":575,"v":2.2},{"p":"COz","g":"M","t":600,"v":2.15},{"p":"COz","g":"M","t":625,"v":2.0},{"p":"COz","g":"M","t":650,"v":1.85},{"p":"COz","g":"M","t":675,"v":1.75},{"p":"COz","g":"M","t":700,"v":1.45},{"p":"COz","g":"M","t":725,"v":1.2},{"p":"COz","g":"M","t":750,"v":0.8},{"p":"COz","g":"M","t":775,"v":0.35},{"p":"COz","g":"M","t":800,"v":0.7},
{"p":"DOz","g":"N","t":-200,"v":0},{"p":"DOz","g":"N","t":-150,"v":-0.1},{"p":"DOz","g":"N","t":-100,"v":0.25},{"p":"DOz","g":"N","t":-50,"v":-0.15},{"p":"DOz","g":"N","t":0,"v":0},{"p":"DOz","g":"N","t":25,"v":-0.1},{"p":"DOz","g":"N","t":50,"v":0},{"p":"DOz","g":"N","t":75,"v":-0.35},{"p":"DOz","g":"N","t":100,"v":-0.9},{"p":"DOz","g":"N","t":115,"v":-1.6},{"p":"DOz","g":"N","t":130,"v":-1.85},{"p":"DOz","g":"N","t":145,"v":-1.35},{"p":"DOz","g":"N","t":160,"v":-0.25},{"p":"DOz","g":"N","t":175,"v":0.25},{"p":"DOz","g":"N","t":190,"v":0.25},{"p":"DOz","g":"N","t":205,"v":0.15},{"p":"DOz","g":"N","t":220,"v":-0.15},{"p":"DOz","g":"N","t":240,"v":-0.25},{"p":"DOz","g":"N","t":260,"v":-0.25},{"p":"DOz","g":"N","t":280,"v":-0.1},{"p":"DOz","g":"N","t":300,"v":0},{"p":"DOz","g":"N","t":325,"v":0.25},{"p":"DOz","g":"N","t":350,"v":0.55},{"p":"DOz","g":"N","t":375,"v":0.8},{"p":"DOz","g":"N","t":400,"v":1.05},{"p":"DOz","g":"N","t":425,"v":1.05},{"p":"DOz","g":"N","t":450,"v":1.35},{"p":"DOz","g":"N","t":475,"v":1.6},{"p":"DOz","g":"N","t":500,"v":1.75},{"p":"DOz","g":"N","t":525,"v":2.0},{"p":"DOz","g":"N","t":550,"v":2.15},{"p":"DOz","g":"N","t":575,"v":2.4},{"p":"DOz","g":"N","t":600,"v":2.15},{"p":"DOz","g":"N","t":625,"v":2.15},{"p":"DOz","g":"N","t":650,"v":2.3},{"p":"DOz","g":"N","t":675,"v":2.0},{"p":"DOz","g":"N","t":700,"v":1.85},{"p":"DOz","g":"N","t":725,"v":1.6},{"p":"DOz","g":"N","t":750,"v":1.75},{"p":"DOz","g":"N","t":775,"v":1.35},{"p":"DOz","g":"N","t":800,"v":0.8},
{"p":"DOz","g":"M","t":-200,"v":0},{"p":"DOz","g":"M","t":-150,"v":-0.1},{"p":"DOz","g":"M","t":-100,"v":-0.25},{"p":"DOz","g":"M","t":-50,"v":-0.05},{"p":"DOz","g":"M","t":0,"v":0},{"p":"DOz","g":"M","t":25,"v":0.25},{"p":"DOz","g":"M","t":50,"v":0},{"p":"DOz","g":"M","t":75,"v":-0.25},{"p":"DOz","g":"M","t":100,"v":-0.9},{"p":"DOz","g":"M","t":115,"v":-1.75},{"p":"DOz","g":"M","t":130,"v":-2.0},{"p":"DOz","g":"M","t":145,"v":-1.45},{"p":"DOz","g":"M","t":160,"v":-0.25},{"p":"DOz","g":"M","t":175,"v":0.35},{"p":"DOz","g":"M","t":190,"v":0.55},{"p":"DOz","g":"M","t":205,"v":0.35},{"p":"DOz","g":"M","t":220,"v":0.55},{"p":"DOz","g":"M","t":240,"v":0.35},{"p":"DOz","g":"M","t":260,"v":0.55},{"p":"DOz","g":"M","t":280,"v":0.7},{"p":"DOz","g":"M","t":300,"v":0.7},{"p":"DOz","g":"M","t":325,"v":1.05},{"p":"DOz","g":"M","t":350,"v":1.2},{"p":"DOz","g":"M","t":375,"v":1.45},{"p":"DOz","g":"M","t":400,"v":1.6},{"p":"DOz","g":"M","t":425,"v":1.45},{"p":"DOz","g":"M","t":450,"v":1.6},{"p":"DOz","g":"M","t":475,"v":1.75},{"p":"DOz","g":"M","t":500,"v":1.85},{"p":"DOz","g":"M","t":525,"v":2.15},{"p":"DOz","g":"M","t":550,"v":2.15},{"p":"DOz","g":"M","t":575,"v":2.2},{"p":"DOz","g":"M","t":600,"v":2.15},{"p":"DOz","g":"M","t":625,"v":2.0},{"p":"DOz","g":"M","t":650,"v":1.75},{"p":"DOz","g":"M","t":675,"v":2.0},{"p":"DOz","g":"M","t":700,"v":1.75},{"p":"DOz","g":"M","t":725,"v":2.0},{"p":"DOz","g":"M","t":750,"v":1.35},{"p":"DOz","g":"M","t":775,"v":0.7},{"p":"DOz","g":"M","t":800,"v":1.05},
{"p":"MOz","g":"N","t":-200,"v":0.35},{"p":"MOz","g":"N","t":-150,"v":0.05},{"p":"MOz","g":"N","t":-100,"v":0},{"p":"MOz","g":"N","t":-50,"v":-0.15},{"p":"MOz","g":"N","t":0,"v":-0.35},{"p":"MOz","g":"N","t":25,"v":-0.25},{"p":"MOz","g":"N","t":50,"v":-0.5},{"p":"MOz","g":"N","t":75,"v":-0.8},{"p":"MOz","g":"N","t":100,"v":-1.05},{"p":"MOz","g":"N","t":115,"v":-1.35},{"p":"MOz","g":"N","t":130,"v":-1.35},{"p":"MOz","g":"N","t":145,"v":-0.9},{"p":"MOz","g":"N","t":160,"v":-0.5},{"p":"MOz","g":"N","t":175,"v":-0.35},{"p":"MOz","g":"N","t":190,"v":-0.35},{"p":"MOz","g":"N","t":205,"v":-0.45},{"p":"MOz","g":"N","t":220,"v":-0.35},{"p":"MOz","g":"N","t":240,"v":-0.5},{"p":"MOz","g":"N","t":260,"v":-0.8},{"p":"MOz","g":"N","t":280,"v":-1.05},{"p":"MOz","g":"N","t":300,"v":-0.7},{"p":"MOz","g":"N","t":325,"v":-0.15},{"p":"MOz","g":"N","t":350,"v":0},{"p":"MOz","g":"N","t":375,"v":0},{"p":"MOz","g":"N","t":400,"v":-0.05},{"p":"MOz","g":"N","t":425,"v":0.15},{"p":"MOz","g":"N","t":450,"v":0.35},{"p":"MOz","g":"N","t":475,"v":0.35},{"p":"MOz","g":"N","t":500,"v":0.55},{"p":"MOz","g":"N","t":525,"v":0.8},{"p":"MOz","g":"N","t":550,"v":1.05},{"p":"MOz","g":"N","t":575,"v":1.35},{"p":"MOz","g":"N","t":600,"v":1.45},{"p":"MOz","g":"N","t":625,"v":1.2},{"p":"MOz","g":"N","t":650,"v":1.05},{"p":"MOz","g":"N","t":675,"v":0.9},{"p":"MOz","g":"N","t":700,"v":0.8},{"p":"MOz","g":"N","t":725,"v":0.7},{"p":"MOz","g":"N","t":750,"v":0.55},{"p":"MOz","g":"N","t":775,"v":0.25},{"p":"MOz","g":"N","t":800,"v":0.15},
{"p":"MOz","g":"M","t":-200,"v":0.15},{"p":"MOz","g":"M","t":-150,"v":0},{"p":"MOz","g":"M","t":-100,"v":0.05},{"p":"MOz","g":"M","t":-50,"v":0},{"p":"MOz","g":"M","t":0,"v":-0.15},{"p":"MOz","g":"M","t":25,"v":-0.35},{"p":"MOz","g":"M","t":50,"v":0.15},{"p":"MOz","g":"M","t":75,"v":-0.5},{"p":"MOz","g":"M","t":100,"v":-1.45},{"p":"MOz","g":"M","t":115,"v":-2.15},{"p":"MOz","g":"M","t":130,"v":-2.2},{"p":"MOz","g":"M","t":145,"v":-1.45},{"p":"MOz","g":"M","t":160,"v":-0.35},{"p":"MOz","g":"M","t":175,"v":-0.15},{"p":"MOz","g":"M","t":190,"v":-0.15},{"p":"MOz","g":"M","t":205,"v":-0.25},{"p":"MOz","g":"M","t":220,"v":-0.15},{"p":"MOz","g":"M","t":240,"v":-0.35},{"p":"MOz","g":"M","t":260,"v":-0.7},{"p":"MOz","g":"M","t":280,"v":-0.9},{"p":"MOz","g":"M","t":300,"v":-0.5},{"p":"MOz","g":"M","t":325,"v":0},{"p":"MOz","g":"M","t":350,"v":0.55},{"p":"MOz","g":"M","t":375,"v":1.05},{"p":"MOz","g":"M","t":400,"v":1.35},{"p":"MOz","g":"M","t":425,"v":1.05},{"p":"MOz","g":"M","t":450,"v":1.2},{"p":"MOz","g":"M","t":475,"v":1.2},{"p":"MOz","g":"M","t":500,"v":1.2},{"p":"MOz","g":"M","t":525,"v":1.05},{"p":"MOz","g":"M","t":550,"v":1.05},{"p":"MOz","g":"M","t":575,"v":1.45},{"p":"MOz","g":"M","t":600,"v":1.2},{"p":"MOz","g":"M","t":625,"v":1.35},{"p":"MOz","g":"M","t":650,"v":1.05},{"p":"MOz","g":"M","t":675,"v":0.8},{"p":"MOz","g":"M","t":700,"v":0.7},{"p":"MOz","g":"M","t":725,"v":0.55},{"p":"MOz","g":"M","t":750,"v":0.15},{"p":"MOz","g":"M","t":775,"v":-0.15},{"p":"MOz","g":"M","t":800,"v":-0.1}
]},
"concat": [
{"width":147,"height":95,"title":"Consonant","layer":[
 {"data":{"values":[{}]},"mark":{"type":"rule","color":"#707070","strokeWidth":1.2},"encoding":{"x":{"datum":-200},"x2":{"datum":800},"y":{"datum":0}}},
 {"data":{"values":[{}]},"mark":{"type":"rule","color":"#707070","strokeWidth":1.2},"encoding":{"x":{"datum":0},"y":{"datum":-7.58},"y2":{"datum":7.58}}},
 {"data":{"values":[{}]},"mark":{"type":"rule","color":"#707070","strokeWidth":1.2},"encoding":{"x":{"datum":-28},"x2":{"datum":28},"y":{"datum":-7.58}}},
 {"data":{"values":[{}]},"mark":{"type":"rule","color":"#707070","strokeWidth":1.2},"encoding":{"x":{"datum":800},"y":{"datum":-0.55},"y2":{"datum":0.55}}},
 {"data":{"values":[{}]},"mark":{"type":"rule","color":"#707070","strokeWidth":1},"encoding":{"x":{"datum":690},"y":{"datum":0.9},"y2":{"datum":3.85}}},
 {"data":{"values":[{}]},"mark":{"type":"rule","color":"#707070","strokeWidth":1},"encoding":{"x":{"datum":645},"x2":{"datum":775},"y":{"datum":2.35}}},
 {"data":{"values":[{}]},"mark":{"type":"text","text":"-7.58","fontSize":7.5,"baseline":"top"},"encoding":{"x":{"datum":605},"y":{"datum":0.2}}},
 {"data":{"values":[{}]},"mark":{"type":"text","text":"+7.58","fontSize":7.5},"encoding":{"x":{"datum":600},"y":{"datum":3.35}}},
 {"data":{"values":[{}]},"mark":{"type":"text","text":"-200 800","fontSize":7.5},"encoding":{"x":{"datum":700},"y":{"datum":4.75}}},
 {"data":{"values":[{}]},"mark":{"type":"text","text":"Time (ms)","fontSize":7.5},"encoding":{"x":{"datum":712},"y":{"datum":6.1}}},
 {"data":{"values":[{}]},"mark":{"type":"text","text":"Fz","fontSize":9.5,"align":"left","baseline":"top"},"encoding":{"x":{"datum":-180},"y":{"datum":-7.5}}},
 {"data":{"name":"erp"},"transform":[{"filter":"datum.p=='CFz'"}],"mark":{"type":"line","strokeWidth":1,"clip":true},"encoding":{
  "x":{"field":"t","type":"quantitative","scale":{"domain":[-200,800],"nice":false,"zero":false},"axis":{"values":[-200,-100,0,100,200,300,400,500,600,700,800],"tickCount":20,"labelOverlap":false,"labelExpr":"datum.value<0?'-'+abs(datum.value):''+datum.value","title":"Time (ms)"}},
  "y":{"field":"v","type":"quantitative","scale":{"domain":[-7.6,7.6],"reverse":true,"nice":false,"zero":false},"axis":{"values":[-6,-4,-2,0,2,4,6],"tickCount":20,"labelOverlap":false,"labelExpr":"datum.value<0?'-'+abs(datum.value):''+datum.value","title":"Potential (µV)"}},
  "color":{"field":"g","type":"nominal","scale":{"domain":["N","M"],"range":["#4262c6","#e2282f"]},"legend":{"orient":"top-right","offset":1,"title":null,"labelExpr":"datum.label=='N'?'Non-musicians':'Musicians'","symbolType":"M-2.4,0H2.4","symbolSize":64,"symbolOffset":6,"symbolStrokeWidth":1.3,"labelFontSize":7.5,"strokeColor":"#444","fillColor":"white","padding":1,"rowPadding":0.5,"labelOffset":7}}}}
]},
{"width":147,"height":95,"title":"Dissonant","layer":[
 {"data":{"values":[{}]},"mark":{"type":"rule","color":"#707070","strokeWidth":1.2},"encoding":{"x":{"datum":-200},"x2":{"datum":800},"y":{"datum":0}}},
 {"data":{"values":[{}]},"mark":{"type":"rule","color":"#707070","strokeWidth":1.2},"encoding":{"x":{"datum":0},"y":{"datum":-7.09},"y2":{"datum":7.09}}},
 {"data":{"values":[{}]},"mark":{"type":"rule","color":"#707070","strokeWidth":1.2},"encoding":{"x":{"datum":-28},"x2":{"datum":28},"y":{"datum":-7.09}}},
 {"data":{"values":[{}]},"mark":{"type":"rule","color":"#707070","strokeWidth":1.2},"encoding":{"x":{"datum":-28},"x2":{"datum":28},"y":{"datum":7.09}}},
 {"data":{"values":[{}]},"mark":{"type":"rule","color":"#707070","strokeWidth":1.2},"encoding":{"x":{"datum":800},"y":{"datum":-0.55},"y2":{"datum":0.55}}},
 {"data":{"values":[{}]},"mark":{"type":"rule","color":"#707070","strokeWidth":1},"encoding":{"x":{"datum":690},"y":{"datum":0.9},"y2":{"datum":3.85}}},
 {"data":{"values":[{}]},"mark":{"type":"rule","color":"#707070","strokeWidth":1},"encoding":{"x":{"datum":645},"x2":{"datum":775},"y":{"datum":2.35}}},
 {"data":{"values":[{}]},"mark":{"type":"text","text":"-7.09","fontSize":7.5,"baseline":"top"},"encoding":{"x":{"datum":605},"y":{"datum":0.2}}},
 {"data":{"values":[{}]},"mark":{"type":"text","text":"+7.09","fontSize":7.5},"encoding":{"x":{"datum":600},"y":{"datum":3.35}}},
 {"data":{"values":[{}]},"mark":{"type":"text","text":"-200 800","fontSize":7.5},"encoding":{"x":{"datum":700},"y":{"datum":4.75}}},
 {"data":{"values":[{}]},"mark":{"type":"text","text":"Time (ms)","fontSize":7.5},"encoding":{"x":{"datum":712},"y":{"datum":6.1}}},
 {"data":{"values":[{}]},"mark":{"type":"text","text":"Fz","fontSize":9.5,"align":"left","baseline":"top"},"encoding":{"x":{"datum":-180},"y":{"datum":-7.5}}},
 {"data":{"name":"erp"},"transform":[{"filter":"datum.p=='DFz'"}],"mark":{"type":"line","strokeWidth":1,"clip":true},"encoding":{
  "x":{"field":"t","type":"quantitative","scale":{"domain":[-200,800],"nice":false,"zero":false},"axis":{"values":[-200,-100,0,100,200,300,400,500,600,700,800],"tickCount":20,"labelOverlap":false,"labelExpr":"datum.value<0?'-'+abs(datum.value):''+datum.value","title":"Time (ms)"}},
  "y":{"field":"v","type":"quantitative","scale":{"domain":[-7.6,7.6],"reverse":true,"nice":false,"zero":false},"axis":{"values":[-6,-4,-2,0,2,4,6],"tickCount":20,"labelOverlap":false,"labelExpr":"datum.value<0?'-'+abs(datum.value):''+datum.value","title":"Potential (µV)"}},
  "color":{"field":"g","type":"nominal","scale":{"domain":["N","M"],"range":["#4262c6","#e2282f"]},"legend":{"orient":"top-right","offset":1,"title":null,"labelExpr":"datum.label=='N'?'Non-musicians':'Musicians'","symbolType":"M-2.4,0H2.4","symbolSize":64,"symbolOffset":6,"symbolStrokeWidth":1.3,"labelFontSize":7.5,"strokeColor":"#444","fillColor":"white","padding":1,"rowPadding":0.5,"labelOffset":7}}}}
]},
{"width":147,"height":95,"title":"Microtonal","layer":[
 {"data":{"values":[{}]},"mark":{"type":"rule","color":"#707070","strokeWidth":1.2},"encoding":{"x":{"datum":-200},"x2":{"datum":800},"y":{"datum":0}}},
 {"data":{"values":[{}]},"mark":{"type":"rule","color":"#707070","strokeWidth":1.2},"encoding":{"x":{"datum":0},"y":{"datum":-7.13},"y2":{"datum":7.13}}},
 {"data":{"values":[{}]},"mark":{"type":"rule","color":"#707070","strokeWidth":1.2},"encoding":{"x":{"datum":-28},"x2":{"datum":28},"y":{"datum":-7.13}}},
 {"data":{"values":[{}]},"mark":{"type":"rule","color":"#707070","strokeWidth":1.2},"encoding":{"x":{"datum":-28},"x2":{"datum":28},"y":{"datum":7.13}}},
 {"data":{"values":[{}]},"mark":{"type":"rule","color":"#707070","strokeWidth":1.2},"encoding":{"x":{"datum":800},"y":{"datum":-0.55},"y2":{"datum":0.55}}},
 {"data":{"values":[{}]},"mark":{"type":"rule","color":"#707070","strokeWidth":1},"encoding":{"x":{"datum":690},"y":{"datum":0.9},"y2":{"datum":3.85}}},
 {"data":{"values":[{}]},"mark":{"type":"rule","color":"#707070","strokeWidth":1},"encoding":{"x":{"datum":645},"x2":{"datum":775},"y":{"datum":2.35}}},
 {"data":{"values":[{}]},"mark":{"type":"text","text":"-7.13","fontSize":7.5,"baseline":"top"},"encoding":{"x":{"datum":605},"y":{"datum":0.2}}},
 {"data":{"values":[{}]},"mark":{"type":"text","text":"+7.13","fontSize":7.5},"encoding":{"x":{"datum":600},"y":{"datum":3.35}}},
 {"data":{"values":[{}]},"mark":{"type":"text","text":"-200 800","fontSize":7.5},"encoding":{"x":{"datum":700},"y":{"datum":4.75}}},
 {"data":{"values":[{}]},"mark":{"type":"text","text":"Time (ms)","fontSize":7.5},"encoding":{"x":{"datum":712},"y":{"datum":6.1}}},
 {"data":{"values":[{}]},"mark":{"type":"text","text":"Fz","fontSize":9.5,"align":"left","baseline":"top"},"encoding":{"x":{"datum":-180},"y":{"datum":-7.5}}},
 {"data":{"name":"erp"},"transform":[{"filter":"datum.p=='MFz'"}],"mark":{"type":"line","strokeWidth":1,"clip":true},"encoding":{
  "x":{"field":"t","type":"quantitative","scale":{"domain":[-200,800],"nice":false,"zero":false},"axis":{"values":[-200,-100,0,100,200,300,400,500,600,700,800],"tickCount":20,"labelOverlap":false,"labelExpr":"datum.value<0?'-'+abs(datum.value):''+datum.value","title":"Time (ms)"}},
  "y":{"field":"v","type":"quantitative","scale":{"domain":[-7.6,7.6],"reverse":true,"nice":false,"zero":false},"axis":{"values":[-6,-4,-2,0,2,4,6],"tickCount":20,"labelOverlap":false,"labelExpr":"datum.value<0?'-'+abs(datum.value):''+datum.value","title":"Potential (µV)"}},
  "color":{"field":"g","type":"nominal","scale":{"domain":["N","M"],"range":["#4262c6","#e2282f"]},"legend":{"orient":"top-right","offset":1,"title":null,"labelExpr":"datum.label=='N'?'Non-musicians':'Musicians'","symbolType":"M-2.4,0H2.4","symbolSize":64,"symbolOffset":6,"symbolStrokeWidth":1.3,"labelFontSize":7.5,"strokeColor":"#444","fillColor":"white","padding":1,"rowPadding":0.5,"labelOffset":7}}}}
]},
{"width":147,"height":95,"layer":[
 {"data":{"values":[{}]},"mark":{"type":"rule","color":"#707070","strokeWidth":1.2},"encoding":{"x":{"datum":-200},"x2":{"datum":800},"y":{"datum":0}}},
 {"data":{"values":[{}]},"mark":{"type":"rule","color":"#707070","strokeWidth":1.2},"encoding":{"x":{"datum":0},"y":{"datum":-7.58},"y2":{"datum":7.58}}},
 {"data":{"values":[{}]},"mark":{"type":"rule","color":"#707070","strokeWidth":1.2},"encoding":{"x":{"datum":-28},"x2":{"datum":28},"y":{"datum":-7.58}}},
 {"data":{"values":[{}]},"mark":{"type":"rule","color":"#707070","strokeWidth":1.2},"encoding":{"x":{"datum":800},"y":{"datum":-0.55},"y2":{"datum":0.55}}},
 {"data":{"values":[{}]},"mark":{"type":"text","text":"Cz","fontSize":9.5,"align":"left","baseline":"top"},"encoding":{"x":{"datum":-180},"y":{"datum":-7.5}}},
 {"data":{"name":"erp"},"transform":[{"filter":"datum.p=='CCz'"}],"mark":{"type":"line","strokeWidth":1,"clip":true},"encoding":{
  "x":{"field":"t","type":"quantitative","scale":{"domain":[-200,800],"nice":false,"zero":false},"axis":{"values":[-200,-100,0,100,200,300,400,500,600,700,800],"tickCount":20,"labelOverlap":false,"labelExpr":"datum.value<0?'-'+abs(datum.value):''+datum.value","title":"Time (ms)"}},
  "y":{"field":"v","type":"quantitative","scale":{"domain":[-7.6,7.6],"reverse":true,"nice":false,"zero":false},"axis":{"values":[-6,-4,-2,0,2,4,6],"tickCount":20,"labelOverlap":false,"labelExpr":"datum.value<0?'-'+abs(datum.value):''+datum.value","title":"Potential (µV)"}},
  "color":{"field":"g","type":"nominal","scale":{"domain":["N","M"],"range":["#4262c6","#e2282f"]},"legend":null}}}
]},
{"width":147,"height":95,"layer":[
 {"data":{"values":[{}]},"mark":{"type":"rule","color":"#707070","strokeWidth":1.2},"encoding":{"x":{"datum":-200},"x2":{"datum":800},"y":{"datum":0}}},
 {"data":{"values":[{}]},"mark":{"type":"rule","color":"#707070","strokeWidth":1.2},"encoding":{"x":{"datum":0},"y":{"datum":-7.09},"y2":{"datum":7.09}}},
 {"data":{"values":[{}]},"mark":{"type":"rule","color":"#707070","strokeWidth":1.2},"encoding":{"x":{"datum":-28},"x2":{"datum":28},"y":{"datum":-7.09}}},
 {"data":{"values":[{}]},"mark":{"type":"rule","color":"#707070","strokeWidth":1.2},"encoding":{"x":{"datum":-28},"x2":{"datum":28},"y":{"datum":7.09}}},
 {"data":{"values":[{}]},"mark":{"type":"rule","color":"#707070","strokeWidth":1.2},"encoding":{"x":{"datum":800},"y":{"datum":-0.55},"y2":{"datum":0.55}}},
 {"data":{"values":[{}]},"mark":{"type":"text","text":"Cz","fontSize":9.5,"align":"left","baseline":"top"},"encoding":{"x":{"datum":-180},"y":{"datum":-7.5}}},
 {"data":{"name":"erp"},"transform":[{"filter":"datum.p=='DCz'"}],"mark":{"type":"line","strokeWidth":1,"clip":true},"encoding":{
  "x":{"field":"t","type":"quantitative","scale":{"domain":[-200,800],"nice":false,"zero":false},"axis":{"values":[-200,-100,0,100,200,300,400,500,600,700,800],"tickCount":20,"labelOverlap":false,"labelExpr":"datum.value<0?'-'+abs(datum.value):''+datum.value","title":"Time (ms)"}},
  "y":{"field":"v","type":"quantitative","scale":{"domain":[-7.6,7.6],"reverse":true,"nice":false,"zero":false},"axis":{"values":[-6,-4,-2,0,2,4,6],"tickCount":20,"labelOverlap":false,"labelExpr":"datum.value<0?'-'+abs(datum.value):''+datum.value","title":"Potential (µV)"}},
  "color":{"field":"g","type":"nominal","scale":{"domain":["N","M"],"range":["#4262c6","#e2282f"]},"legend":null}}}
]},
{"width":147,"height":95,"layer":[
 {"data":{"values":[{}]},"mark":{"type":"rule","color":"#707070","strokeWidth":1.2},"encoding":{"x":{"datum":-200},"x2":{"datum":800},"y":{"datum":0}}},
 {"data":{"values":[{}]},"mark":{"type":"rule","color":"#707070","strokeWidth":1.2},"encoding":{"x":{"datum":0},"y":{"datum":-7.13},"y2":{"datum":7.13}}},
 {"data":{"values":[{}]},"mark":{"type":"rule","color":"#707070","strokeWidth":1.2},"encoding":{"x":{"datum":-28},"x2":{"datum":28},"y":{"datum":-7.13}}},
 {"data":{"values":[{}]},"mark":{"type":"rule","color":"#707070","strokeWidth":1.2},"encoding":{"x":{"datum":-28},"x2":{"datum":28},"y":{"datum":7.13}}},
 {"data":{"values":[{}]},"mark":{"type":"rule","color":"#707070","strokeWidth":1.2},"encoding":{"x":{"datum":800},"y":{"datum":-0.55},"y2":{"datum":0.55}}},
 {"data":{"values":[{}]},"mark":{"type":"text","text":"Cz","fontSize":9.5,"align":"left","baseline":"top"},"encoding":{"x":{"datum":-180},"y":{"datum":-7.5}}},
 {"data":{"name":"erp"},"transform":[{"filter":"datum.p=='MCz'"}],"mark":{"type":"line","strokeWidth":1,"clip":true},"encoding":{
  "x":{"field":"t","type":"quantitative","scale":{"domain":[-200,800],"nice":false,"zero":false},"axis":{"values":[-200,-100,0,100,200,300,400,500,600,700,800],"tickCount":20,"labelOverlap":false,"labelExpr":"datum.value<0?'-'+abs(datum.value):''+datum.value","title":"Time (ms)"}},
  "y":{"field":"v","type":"quantitative","scale":{"domain":[-7.6,7.6],"reverse":true,"nice":false,"zero":false},"axis":{"values":[-6,-4,-2,0,2,4,6],"tickCount":20,"labelOverlap":false,"labelExpr":"datum.value<0?'-'+abs(datum.value):''+datum.value","title":"Potential (µV)"}},
  "color":{"field":"g","type":"nominal","scale":{"domain":["N","M"],"range":["#4262c6","#e2282f"]},"legend":null}}}
]},
{"width":147,"height":95,"layer":[
 {"data":{"values":[{}]},"mark":{"type":"rule","color":"#707070","strokeWidth":1.2},"encoding":{"x":{"datum":-200},"x2":{"datum":800},"y":{"datum":0}}},
 {"data":{"values":[{}]},"mark":{"type":"rule","color":"#707070","strokeWidth":1.2},"encoding":{"x":{"datum":0},"y":{"datum":-7.58},"y2":{"datum":7.58}}},
 {"data":{"values":[{}]},"mark":{"type":"rule","color":"#707070","strokeWidth":1.2},"encoding":{"x":{"datum":-28},"x2":{"datum":28},"y":{"datum":-7.58}}},
 {"data":{"values":[{}]},"mark":{"type":"rule","color":"#707070","strokeWidth":1.2},"encoding":{"x":{"datum":800},"y":{"datum":-0.55},"y2":{"datum":0.55}}},
 {"data":{"values":[{}]},"mark":{"type":"text","text":"Pz","fontSize":9.5,"align":"left","baseline":"top"},"encoding":{"x":{"datum":-180},"y":{"datum":-7.5}}},
 {"data":{"name":"erp"},"transform":[{"filter":"datum.p=='CPz'"}],"mark":{"type":"line","strokeWidth":1,"clip":true},"encoding":{
  "x":{"field":"t","type":"quantitative","scale":{"domain":[-200,800],"nice":false,"zero":false},"axis":{"values":[-200,-100,0,100,200,300,400,500,600,700,800],"tickCount":20,"labelOverlap":false,"labelExpr":"datum.value<0?'-'+abs(datum.value):''+datum.value","title":"Time (ms)"}},
  "y":{"field":"v","type":"quantitative","scale":{"domain":[-7.6,7.6],"reverse":true,"nice":false,"zero":false},"axis":{"values":[-6,-4,-2,0,2,4,6],"tickCount":20,"labelOverlap":false,"labelExpr":"datum.value<0?'-'+abs(datum.value):''+datum.value","title":"Potential (µV)"}},
  "color":{"field":"g","type":"nominal","scale":{"domain":["N","M"],"range":["#4262c6","#e2282f"]},"legend":null}}}
]},
{"width":147,"height":95,"layer":[
 {"data":{"values":[{}]},"mark":{"type":"rule","color":"#707070","strokeWidth":1.2},"encoding":{"x":{"datum":-200},"x2":{"datum":800},"y":{"datum":0}}},
 {"data":{"values":[{}]},"mark":{"type":"rule","color":"#707070","strokeWidth":1.2},"encoding":{"x":{"datum":0},"y":{"datum":-7.09},"y2":{"datum":7.09}}},
 {"data":{"values":[{}]},"mark":{"type":"rule","color":"#707070","strokeWidth":1.2},"encoding":{"x":{"datum":-28},"x2":{"datum":28},"y":{"datum":-7.09}}},
 {"data":{"values":[{}]},"mark":{"type":"rule","color":"#707070","strokeWidth":1.2},"encoding":{"x":{"datum":-28},"x2":{"datum":28},"y":{"datum":7.09}}},
 {"data":{"values":[{}]},"mark":{"type":"rule","color":"#707070","strokeWidth":1.2},"encoding":{"x":{"datum":800},"y":{"datum":-0.55},"y2":{"datum":0.55}}},
 {"data":{"values":[{}]},"mark":{"type":"text","text":"Pz","fontSize":9.5,"align":"left","baseline":"top"},"encoding":{"x":{"datum":-180},"y":{"datum":-7.5}}},
 {"data":{"name":"erp"},"transform":[{"filter":"datum.p=='DPz'"}],"mark":{"type":"line","strokeWidth":1,"clip":true},"encoding":{
  "x":{"field":"t","type":"quantitative","scale":{"domain":[-200,800],"nice":false,"zero":false},"axis":{"values":[-200,-100,0,100,200,300,400,500,600,700,800],"tickCount":20,"labelOverlap":false,"labelExpr":"datum.value<0?'-'+abs(datum.value):''+datum.value","title":"Time (ms)"}},
  "y":{"field":"v","type":"quantitative","scale":{"domain":[-7.6,7.6],"reverse":true,"nice":false,"zero":false},"axis":{"values":[-6,-4,-2,0,2,4,6],"tickCount":20,"labelOverlap":false,"labelExpr":"datum.value<0?'-'+abs(datum.value):''+datum.value","title":"Potential (µV)"}},
  "color":{"field":"g","type":"nominal","scale":{"domain":["N","M"],"range":["#4262c6","#e2282f"]},"legend":null}}}
]},
{"width":147,"height":95,"layer":[
 {"data":{"values":[{}]},"mark":{"type":"rule","color":"#707070","strokeWidth":1.2},"encoding":{"x":{"datum":-200},"x2":{"datum":800},"y":{"datum":0}}},
 {"data":{"values":[{}]},"mark":{"type":"rule","color":"#707070","strokeWidth":1.2},"encoding":{"x":{"datum":0},"y":{"datum":-7.13},"y2":{"datum":7.13}}},
 {"data":{"values":[{}]},"mark":{"type":"rule","color":"#707070","strokeWidth":1.2},"encoding":{"x":{"datum":-28},"x2":{"datum":28},"y":{"datum":-7.13}}},
 {"data":{"values":[{}]},"mark":{"type":"rule","color":"#707070","strokeWidth":1.2},"encoding":{"x":{"datum":-28},"x2":{"datum":28},"y":{"datum":7.13}}},
 {"data":{"values":[{}]},"mark":{"type":"rule","color":"#707070","strokeWidth":1.2},"encoding":{"x":{"datum":800},"y":{"datum":-0.55},"y2":{"datum":0.55}}},
 {"data":{"values":[{}]},"mark":{"type":"text","text":"Pz","fontSize":9.5,"align":"left","baseline":"top"},"encoding":{"x":{"datum":-180},"y":{"datum":-7.5}}},
 {"data":{"name":"erp"},"transform":[{"filter":"datum.p=='MPz'"}],"mark":{"type":"line","strokeWidth":1,"clip":true},"encoding":{
  "x":{"field":"t","type":"quantitative","scale":{"domain":[-200,800],"nice":false,"zero":false},"axis":{"values":[-200,-100,0,100,200,300,400,500,600,700,800],"tickCount":20,"labelOverlap":false,"labelExpr":"datum.value<0?'-'+abs(datum.value):''+datum.value","title":"Time (ms)"}},
  "y":{"field":"v","type":"quantitative","scale":{"domain":[-7.6,7.6],"reverse":true,"nice":false,"zero":false},"axis":{"values":[-6,-4,-2,0,2,4,6],"tickCount":20,"labelOverlap":false,"labelExpr":"datum.value<0?'-'+abs(datum.value):''+datum.value","title":"Potential (µV)"}},
  "color":{"field":"g","type":"nominal","scale":{"domain":["N","M"],"range":["#4262c6","#e2282f"]},"legend":null}}}
]},
{"width":147,"height":95,"layer":[
 {"data":{"values":[{}]},"mark":{"type":"rule","color":"#707070","strokeWidth":1.2},"encoding":{"x":{"datum":-200},"x2":{"datum":800},"y":{"datum":0}}},
 {"data":{"values":[{}]},"mark":{"type":"rule","color":"#707070","strokeWidth":1.2},"encoding":{"x":{"datum":0},"y":{"datum":-7.58},"y2":{"datum":7.58}}},
 {"data":{"values":[{}]},"mark":{"type":"rule","color":"#707070","strokeWidth":1.2},"encoding":{"x":{"datum":-28},"x2":{"datum":28},"y":{"datum":-7.58}}},
 {"data":{"values":[{}]},"mark":{"type":"rule","color":"#707070","strokeWidth":1.2},"encoding":{"x":{"datum":800},"y":{"datum":-0.55},"y2":{"datum":0.55}}},
 {"data":{"values":[{}]},"mark":{"type":"text","text":"Oz","fontSize":9.5,"align":"left","baseline":"top"},"encoding":{"x":{"datum":-180},"y":{"datum":-7.5}}},
 {"data":{"name":"erp"},"transform":[{"filter":"datum.p=='COz'"}],"mark":{"type":"line","strokeWidth":1,"clip":true},"encoding":{
  "x":{"field":"t","type":"quantitative","scale":{"domain":[-200,800],"nice":false,"zero":false},"axis":{"values":[-200,-100,0,100,200,300,400,500,600,700,800],"tickCount":20,"labelOverlap":false,"labelExpr":"datum.value<0?'-'+abs(datum.value):''+datum.value","title":"Time (ms)"}},
  "y":{"field":"v","type":"quantitative","scale":{"domain":[-7.6,7.6],"reverse":true,"nice":false,"zero":false},"axis":{"values":[-6,-4,-2,0,2,4,6],"tickCount":20,"labelOverlap":false,"labelExpr":"datum.value<0?'-'+abs(datum.value):''+datum.value","title":"Potential (µV)"}},
  "color":{"field":"g","type":"nominal","scale":{"domain":["N","M"],"range":["#4262c6","#e2282f"]},"legend":null}}}
]},
{"width":147,"height":95,"layer":[
 {"data":{"values":[{}]},"mark":{"type":"rule","color":"#707070","strokeWidth":1.2},"encoding":{"x":{"datum":-200},"x2":{"datum":800},"y":{"datum":0}}},
 {"data":{"values":[{}]},"mark":{"type":"rule","color":"#707070","strokeWidth":1.2},"encoding":{"x":{"datum":0},"y":{"datum":-7.09},"y2":{"datum":7.09}}},
 {"data":{"values":[{}]},"mark":{"type":"rule","color":"#707070","strokeWidth":1.2},"encoding":{"x":{"datum":-28},"x2":{"datum":28},"y":{"datum":-7.09}}},
 {"data":{"values":[{}]},"mark":{"type":"rule","color":"#707070","strokeWidth":1.2},"encoding":{"x":{"datum":-28},"x2":{"datum":28},"y":{"datum":7.09}}},
 {"data":{"values":[{}]},"mark":{"type":"rule","color":"#707070","strokeWidth":1.2},"encoding":{"x":{"datum":800},"y":{"datum":-0.55},"y2":{"datum":0.55}}},
 {"data":{"values":[{}]},"mark":{"type":"text","text":"Oz","fontSize":9.5,"align":"left","baseline":"top"},"encoding":{"x":{"datum":-180},"y":{"datum":-7.5}}},
 {"data":{"name":"erp"},"transform":[{"filter":"datum.p=='DOz'"}],"mark":{"type":"line","strokeWidth":1,"clip":true},"encoding":{
  "x":{"field":"t","type":"quantitative","scale":{"domain":[-200,800],"nice":false,"zero":false},"axis":{"values":[-200,-100,0,100,200,300,400,500,600,700,800],"tickCount":20,"labelOverlap":false,"labelExpr":"datum.value<0?'-'+abs(datum.value):''+datum.value","title":"Time (ms)"}},
  "y":{"field":"v","type":"quantitative","scale":{"domain":[-7.6,7.6],"reverse":true,"nice":false,"zero":false},"axis":{"values":[-6,-4,-2,0,2,4,6],"tickCount":20,"labelOverlap":false,"labelExpr":"datum.value<0?'-'+abs(datum.value):''+datum.value","title":"Potential (µV)"}},
  "color":{"field":"g","type":"nominal","scale":{"domain":["N","M"],"range":["#4262c6","#e2282f"]},"legend":null}}}
]},
{"width":147,"height":95,"layer":[
 {"data":{"values":[{}]},"mark":{"type":"rule","color":"#707070","strokeWidth":1.2},"encoding":{"x":{"datum":-200},"x2":{"datum":800},"y":{"datum":0}}},
 {"data":{"values":[{}]},"mark":{"type":"rule","color":"#707070","strokeWidth":1.2},"encoding":{"x":{"datum":0},"y":{"datum":-7.13},"y2":{"datum":7.13}}},
 {"data":{"values":[{}]},"mark":{"type":"rule","color":"#707070","strokeWidth":1.2},"encoding":{"x":{"datum":-28},"x2":{"datum":28},"y":{"datum":-7.13}}},
 {"data":{"values":[{}]},"mark":{"type":"rule","color":"#707070","strokeWidth":1.2},"encoding":{"x":{"datum":-28},"x2":{"datum":28},"y":{"datum":7.13}}},
 {"data":{"values":[{}]},"mark":{"type":"rule","color":"#707070","strokeWidth":1.2},"encoding":{"x":{"datum":800},"y":{"datum":-0.55},"y2":{"datum":0.55}}},
 {"data":{"values":[{}]},"mark":{"type":"text","text":"Oz","fontSize":9.5,"align":"left","baseline":"top"},"encoding":{"x":{"datum":-180},"y":{"datum":-7.5}}},
 {"data":{"name":"erp"},"transform":[{"filter":"datum.p=='MOz'"}],"mark":{"type":"line","strokeWidth":1,"clip":true},"encoding":{
  "x":{"field":"t","type":"quantitative","scale":{"domain":[-200,800],"nice":false,"zero":false},"axis":{"values":[-200,-100,0,100,200,300,400,500,600,700,800],"tickCount":20,"labelOverlap":false,"labelExpr":"datum.value<0?'-'+abs(datum.value):''+datum.value","title":"Time (ms)"}},
  "y":{"field":"v","type":"quantitative","scale":{"domain":[-7.6,7.6],"reverse":true,"nice":false,"zero":false},"axis":{"values":[-6,-4,-2,0,2,4,6],"tickCount":20,"labelOverlap":false,"labelExpr":"datum.value<0?'-'+abs(datum.value):''+datum.value","title":"Potential (µV)"}},
  "color":{"field":"g","type":"nominal","scale":{"domain":["N","M"],"range":["#4262c6","#e2282f"]},"legend":null}}}
]}
]
}
